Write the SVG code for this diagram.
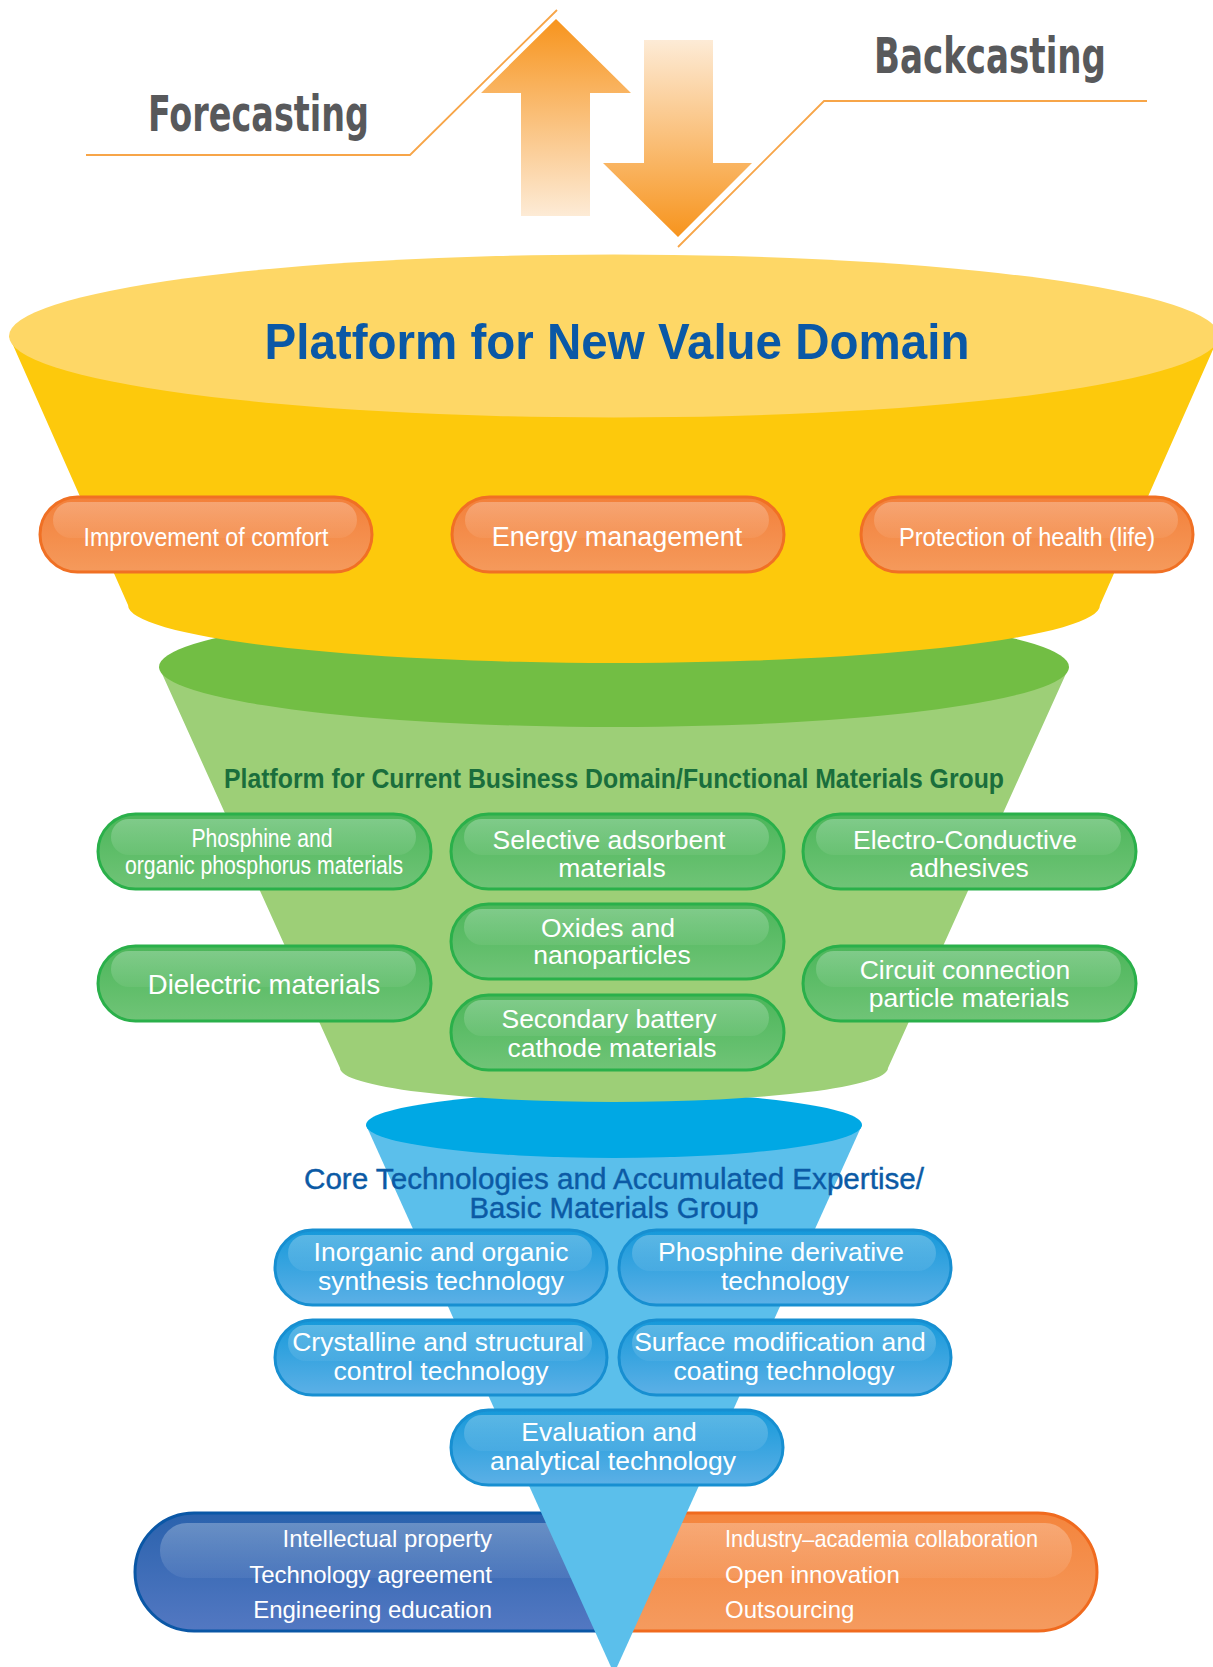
<svg xmlns="http://www.w3.org/2000/svg" width="1213" height="1667" viewBox="0 0 1213 1667">
<defs>
<style>
.lbl{fill:#ffffff;font-family:"Liberation Sans",Arial,sans-serif;font-size:26.5px;text-anchor:middle}
.cast{fill:#58595b;font-family:"Liberation Sans Narrow","DejaVu Sans Condensed","Liberation Sans",sans-serif;font-weight:bold;font-size:50px}
.guide{fill:none;stroke:#f7a548;stroke-width:1.8}
.op{fill:url(#gOr);stroke:#f07024;stroke-width:3}
.gp{fill:url(#gGr);stroke:#2ab04a;stroke-width:3}
.bp{fill:url(#gBl);stroke:#178fd1;stroke-width:3}
.hl{fill:url(#gHi)}
.core{fill:#0b5aa5;stroke:#0b5aa5;stroke-width:0.4;font-family:"Liberation Sans",Arial,sans-serif;font-size:29px;text-anchor:middle}
</style>
<linearGradient id="gUp" x1="0" y1="0" x2="0" y2="1"><stop offset="0" stop-color="#f7941d"/><stop offset="1" stop-color="#fdebd6"/></linearGradient>
<linearGradient id="gDn" x1="0" y1="0" x2="0" y2="1"><stop offset="0" stop-color="#fdebd6"/><stop offset="1" stop-color="#f7941d"/></linearGradient>
<linearGradient id="gOr" x1="0" y1="0" x2="0" y2="1"><stop offset="0" stop-color="#f3803a"/><stop offset="1" stop-color="#f59a5c"/></linearGradient>
<linearGradient id="gGr" x1="0" y1="0" x2="0" y2="1"><stop offset="0" stop-color="#4cb65a"/><stop offset="1" stop-color="#70c477"/></linearGradient>
<linearGradient id="gBl" x1="0" y1="0" x2="0" y2="1"><stop offset="0" stop-color="#1699da"/><stop offset="1" stop-color="#5cb0e6"/></linearGradient>
<linearGradient id="gBB" x1="0" y1="0" x2="0" y2="1"><stop offset="0" stop-color="#2a62ad"/><stop offset="1" stop-color="#5378c2"/></linearGradient>
<linearGradient id="gBO" x1="0" y1="0" x2="0" y2="1"><stop offset="0" stop-color="#f4853d"/><stop offset="1" stop-color="#f59b5f"/></linearGradient>
<linearGradient id="gHi" x1="0" y1="0" x2="0" y2="1"><stop offset="0" stop-color="#ffffff" stop-opacity="0.28"/><stop offset="1" stop-color="#ffffff" stop-opacity="0.06"/></linearGradient>
</defs>

<g id="connectors">
<polyline class="guide" points="86,155 410,155 557,10"/>
<polyline class="guide" points="678,247 824,101 1147,101"/>
<polygon id="arrow-up" fill="url(#gUp)" points="556,19 631,93 590,93 590,216 521,216 521,93 481,93"/>
<polygon id="arrow-down" fill="url(#gDn)" points="644,40 713,40 713,163 752,163 678,237 603,163 644,163"/>
</g>

<g id="forecasting"><text class="cast" x="148" y="131" textLength="221" lengthAdjust="spacingAndGlyphs">Forecasting</text></g>
<g id="backcasting"><text class="cast" x="874" y="73" textLength="232" lengthAdjust="spacingAndGlyphs">Backcasting</text></g>

<g id="bottom-left">
<path d="M194,1513 H620 V1631 H194 A59,59 0 0 1 194,1513 Z" fill="url(#gBB)" stroke="#0a57a6" stroke-width="3"/>
<rect class="hl" x="160" y="1523" width="450" height="55" rx="27"/>
<text class="lbl" x="492" y="1547" style="text-anchor:end;font-size:24px">Intellectual property</text>
<text class="lbl" x="492" y="1583" style="text-anchor:end;font-size:24px">Technology agreement</text>
<text class="lbl" x="492" y="1618" style="text-anchor:end;font-size:24px">Engineering education</text>
</g>
<g id="bottom-right">
<path d="M614,1513 H1038 A59,59 0 0 1 1038,1631 H614 Z" fill="url(#gBO)" stroke="#f06a1e" stroke-width="3"/>
<rect class="hl" x="625" y="1523" width="447" height="55" rx="27"/>
<text class="lbl" x="725" y="1547" style="text-anchor:start;font-size:24px" textLength="313" lengthAdjust="spacingAndGlyphs">Industry–academia collaboration</text>
<text class="lbl" x="725" y="1583" style="text-anchor:start;font-size:24px">Open innovation</text>
<text class="lbl" x="725" y="1618" style="text-anchor:start;font-size:24px">Outsourcing</text>
</g>

<g id="basic-materials">
<path d="M366,1125 L611,1667 L617,1667 L862,1125 Z" fill="#5bbfeb"/>
<ellipse cx="614" cy="1125" rx="248" ry="33" fill="#00a8e4"/>
<text class="core" x="614" y="1189" textLength="620" lengthAdjust="spacingAndGlyphs">Core Technologies and Accumulated Expertise/</text>
<text class="core" x="614" y="1218" textLength="289" lengthAdjust="spacingAndGlyphs">Basic Materials Group</text>
</g>
<g id="b1"><rect class="bp" x="275" y="1230" width="332" height="75" rx="37.5"/><rect class="hl" x="288" y="1235" width="304" height="36" rx="18"/>
<text class="lbl" x="441" y="1261">Inorganic and organic</text><text class="lbl" x="441" y="1290">synthesis technology</text></g>
<g id="b2"><rect class="bp" x="619" y="1230" width="332" height="75" rx="37.5"/><rect class="hl" x="632" y="1235" width="304" height="36" rx="18"/>
<text class="lbl" x="781" y="1261">Phosphine derivative</text><text class="lbl" x="785" y="1290">technology</text></g>
<g id="b3"><rect class="bp" x="275" y="1320" width="332" height="75" rx="37.5"/><rect class="hl" x="288" y="1325" width="304" height="36" rx="18"/>
<text class="lbl" x="438" y="1351">Crystalline and structural</text><text class="lbl" x="441" y="1380">control technology</text></g>
<g id="b4"><rect class="bp" x="619" y="1320" width="332" height="75" rx="37.5"/><rect class="hl" x="632" y="1325" width="304" height="36" rx="18"/>
<text class="lbl" x="780" y="1351">Surface modification and</text><text class="lbl" x="784" y="1380">coating technology</text></g>
<g id="b5"><rect class="bp" x="451" y="1410" width="332" height="75" rx="37.5"/><rect class="hl" x="464" y="1415" width="304" height="36" rx="18"/>
<text class="lbl" x="609" y="1441">Evaluation and</text><text class="lbl" x="613" y="1470">analytical technology</text></g>

<g id="functional-materials">
<path d="M159,667 L340,1068 A274,34 0 0 0 888,1068 L1069,667 Z" fill="#9dcf77"/>
<ellipse cx="614" cy="667" rx="455" ry="60" fill="#72be44"/>
<text x="614" y="788" fill="#1a6e3c" font-family="Liberation Sans,Arial,sans-serif" font-size="28" font-weight="bold" text-anchor="middle" textLength="780" lengthAdjust="spacingAndGlyphs">Platform for Current Business Domain/Functional Materials Group</text>
</g>
<g id="g1"><rect class="gp" x="98" y="814" width="333" height="75" rx="37.5"/><rect class="hl" x="111" y="819" width="305" height="36" rx="18"/>
<text class="lbl" x="262" y="847" style="font-size:25px" textLength="141" lengthAdjust="spacingAndGlyphs">Phosphine and</text><text class="lbl" x="264" y="874" style="font-size:25px" textLength="278" lengthAdjust="spacingAndGlyphs">organic phosphorus materials</text></g>
<g id="g2"><rect class="gp" x="451" y="814" width="333" height="75" rx="37.5"/><rect class="hl" x="464" y="819" width="305" height="36" rx="18"/>
<text class="lbl" x="609" y="849">Selective adsorbent</text><text class="lbl" x="612" y="877">materials</text></g>
<g id="g3"><rect class="gp" x="803" y="814" width="333" height="75" rx="37.5"/><rect class="hl" x="816" y="819" width="305" height="36" rx="18"/>
<text class="lbl" x="965" y="849">Electro-Conductive</text><text class="lbl" x="969" y="877">adhesives</text></g>
<g id="g4"><rect class="gp" x="451" y="904" width="333" height="75" rx="37.5"/><rect class="hl" x="464" y="909" width="305" height="36" rx="18"/>
<text class="lbl" x="608" y="937">Oxides and</text><text class="lbl" x="612" y="964">nanoparticles</text></g>
<g id="g5"><rect class="gp" x="98" y="946" width="333" height="75" rx="37.5"/><rect class="hl" x="111" y="951" width="305" height="36" rx="18"/>
<text class="lbl" x="264" y="994" style="font-size:27.5px">Dielectric materials</text></g>
<g id="g6"><rect class="gp" x="803" y="946" width="333" height="75" rx="37.5"/><rect class="hl" x="816" y="951" width="305" height="36" rx="18"/>
<text class="lbl" x="965" y="979">Circuit connection</text><text class="lbl" x="969" y="1007">particle materials</text></g>
<g id="g7"><rect class="gp" x="451" y="995" width="333" height="75" rx="37.5"/><rect class="hl" x="464" y="1000" width="305" height="36" rx="18"/>
<text class="lbl" x="609" y="1028">Secondary battery</text><text class="lbl" x="612" y="1057">cathode materials</text></g>

<g id="new-value-domain">
<path d="M9,336 L128,605 A486,58 0 0 0 1100,605 L1219,336 Z" fill="#fdc90c"/>
<ellipse cx="614" cy="336" rx="605" ry="81.5" fill="#fed766"/>
<text x="617" y="359" fill="#0a58a6" font-family="Liberation Sans,Arial,sans-serif" font-size="50" font-weight="bold" text-anchor="middle" textLength="705" lengthAdjust="spacingAndGlyphs">Platform for New Value Domain</text>
</g>
<g id="o1"><rect class="op" x="40" y="497" width="332" height="75" rx="37.5"/><rect class="hl" x="53" y="502" width="304" height="36" rx="18"/>
<text class="lbl" x="206" y="546" textLength="245" lengthAdjust="spacingAndGlyphs">Improvement of comfort</text></g>
<g id="o2"><rect class="op" x="452" y="497" width="332" height="75" rx="37.5"/><rect class="hl" x="465" y="502" width="304" height="36" rx="18"/>
<text class="lbl" x="617" y="546" style="font-size:27px">Energy management</text></g>
<g id="o3"><rect class="op" x="861" y="497" width="332" height="75" rx="37.5"/><rect class="hl" x="874" y="502" width="304" height="36" rx="18"/>
<text class="lbl" x="1027" y="546" textLength="256" lengthAdjust="spacingAndGlyphs">Protection of health (life)</text></g>
</svg>
